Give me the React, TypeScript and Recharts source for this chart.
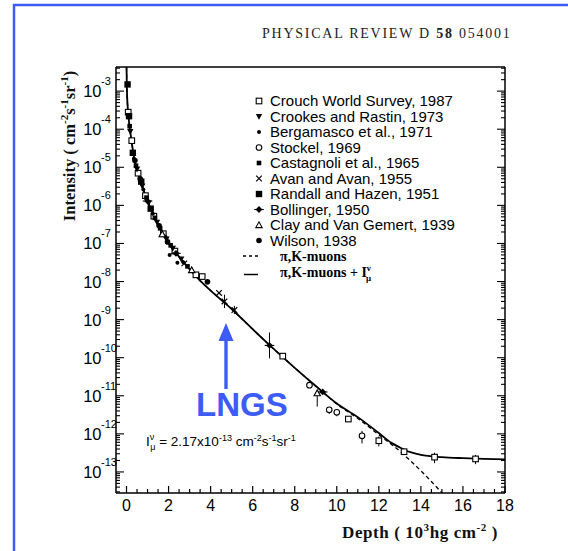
import React from 'react';
import { ComposedChart, Line, Scatter, XAxis, YAxis, ErrorBar } from 'recharts';

const SANS = '"Liberation Sans", Arial, Helvetica, sans-serif';
const SERIF = '"Liberation Serif", "Times New Roman", Times, serif';
const BLUE = '#3d5cf6';

// depth in 10^3 hg cm^-2, intensity in cm^-2 s^-1 sr^-1
const totalDepth = [0, 0.02, 0.1, 0.2, 0.4, 0.6, 0.86, 1.2, 1.5, 2, 2.5, 3, 3.5, 4, 5, 6, 7, 8, 9, 10, 11, 12, 12.6, 13, 13.5, 14, 15, 16, 17, 18];
const totalFlux = [4.3e-3, 1e-3, 2e-4, 7e-5, 1.4e-5, 5.6e-6, 2.1e-6, 7e-7, 3.2e-7, 1.05e-7, 4.5e-8, 2.1e-8, 1.05e-8, 5.8e-9, 1.9e-9, 5.6e-10, 1.7e-10, 5.4e-11, 1.8e-11, 6.3e-12, 2.75e-12, 1.05e-12, 5.8e-13, 4.4e-13, 3.3e-13, 2.8e-13, 2.45e-13, 2.3e-13, 2.2e-13, 2.15e-13];

const pikDepth = [0, 0.02, 0.1, 0.2, 0.4, 0.6, 0.86, 1.2, 1.5, 2, 2.5, 3, 3.5, 4, 5, 6, 7, 8, 9, 10, 11, 12, 13, 14, 15, 15.3];
const pikFlux = [4.3e-3, 1e-3, 2e-4, 7e-5, 1.4e-5, 5.6e-6, 2.1e-6, 7e-7, 3.2e-7, 1.05e-7, 4.5e-8, 2.1e-8, 1.05e-8, 5.8e-9, 1.9e-9, 5.6e-10, 1.7e-10, 5.4e-11, 1.8e-11, 6.1e-12, 2.55e-12, 9.5e-13, 3.5e-13, 1.07e-13, 2.8e-14, 1.8e-14];

// measurements
const crouchDepth = [0.08, 0.25, 0.55, 0.9, 1.3, 1.75, 2.3, 3.3, 3.6, 7.43, 10.55, 12.0, 13.2, 14.65, 16.6];
const crouchFlux = [2.8e-4, 5e-5, 7e-6, 1.8e-6, 5.2e-7, 1.8e-7, 6.3e-8, 1.5e-8, 1.35e-8, 1.1e-10, 2.45e-12, 6.6e-13, 3.4e-13, 2.45e-13, 2.2e-13];
const crouchLow = [null, null, null, null, null, null, null, null, null, null, 2.1e-12, 4.7e-13, 2.9e-13, 1.7e-13, 1.6e-13];
const crouchHigh = [null, null, null, null, null, null, null, null, null, null, 2.8e-12, 8.5e-13, null, 3.2e-13, 2.8e-13];

const crookesDepth = [0.18, 0.5, 0.75, 1.05, 1.45, 1.9, 2.2, 2.6];
const crookesFlux = [8.7e-5, 8.9e-6, 3.2e-6, 1.15e-6, 3.6e-7, 1.3e-7, 7.4e-8, 3.9e-8];

const bergamascoDepth = [0.35, 0.8, 1.25, 1.85, 2.05, 2.42, 2.7];
const bergamascoFlux = [1.7e-5, 2.6e-6, 6e-7, 1.5e-7, 5e-8, 3.1e-8, 3.2e-8];

const stockelDepth = [8.7, 9.64, 10.0, 11.2];
const stockelFlux = [1.9e-11, 4.3e-12, 3.7e-12, 8.9e-13];
const stockelLow = [null, 3.3e-12, 2.9e-12, 5.6e-13];
const stockelHigh = [null, 5e-12, 4.4e-12, 1.2e-12];

const castagnoliDepth = [0.15, 0.45, 0.65, 0.95, 1.35, 1.6, 2.1, 2.9];
const castagnoliFlux = [1.2e-4, 1.1e-5, 4.7e-6, 1.6e-6, 4.7e-7, 2.5e-7, 8.9e-8, 2.5e-8];

const avanDepth = [2.75, 4.4, 4.66, 5.13];
const avanFlux = [3e-8, 5e-9, 3e-9, 1.78e-9];
const avanLow = [null, null, 2e-9, 1.4e-9];
const avanHigh = [null, null, 4.5e-9, 2.3e-9];

const randallDepth = [0.05, 0.12, 0.3, 0.7, 1.15];
const randallFlux = [1.5e-3, 2.2e-4, 2.4e-5, 4.2e-6, 8.2e-7];

const bollingerDepth = [1.0, 2.35, 6.8, 9.33];
const bollingerFlux = [1.3e-6, 5.5e-8, 2.1e-10, 1.26e-11];
const bollingerLow = [null, null, 9.6e-11, null];
const bollingerHigh = [null, null, 4.6e-10, null];

const clayDepth = [1.7, 3.1, 9.07];
const clayFlux = [1.75e-7, 2e-8, 1.17e-11];
const clayLow = [null, null, 5.2e-12];
const clayHigh = [null, null, 1.4e-11];

const wilsonDepth = [0.4, 0.65, 1.55, 1.95, 3.85];
const wilsonFlux = [1.5e-5, 5e-6, 2.9e-7, 1.1e-7, 9.8e-9];

const yExponents = [-3, -4, -5, -6, -7, -8, -9, -10, -11, -12, -13];
const xLabels = [0, 2, 4, 6, 8, 10, 12, 14, 16, 18];

const Y_MIN = 2.8e-14;
const Y_MAX = 4.3e-3;

type Row = { depth: number; intensity: number; err: number[] };

const rows = (d: number[], v: number[], lo?: (number | null)[], hi?: (number | null)[]): Row[] =>
  d.map((depth, i) => ({
    depth,
    intensity: v[i],
    err: [lo && lo[i] != null ? v[i] - (lo[i] as number) : 0, hi && hi[i] != null ? (hi[i] as number) - v[i] : 0],
  }));

const totalData = rows(totalDepth, totalFlux);
const pikData = rows(pikDepth, pikFlux);

const series = [
  { name: 'Crouch World Survey, 1987', kind: 'openSquare', data: rows(crouchDepth, crouchFlux, crouchLow, crouchHigh) },
  { name: 'Crookes and Rastin, 1973', kind: 'triDown', data: rows(crookesDepth, crookesFlux) },
  { name: 'Bergamasco et al., 1971', kind: 'dot', data: rows(bergamascoDepth, bergamascoFlux) },
  { name: 'Stockel, 1969', kind: 'openCircle', data: rows(stockelDepth, stockelFlux, stockelLow, stockelHigh) },
  { name: 'Castagnoli et al., 1965', kind: 'smallSquare', data: rows(castagnoliDepth, castagnoliFlux) },
  { name: 'Avan and Avan, 1955', kind: 'cross', data: rows(avanDepth, avanFlux, avanLow, avanHigh) },
  { name: 'Randall and Hazen, 1951', kind: 'bigSquare', data: rows(randallDepth, randallFlux) },
  { name: 'Bollinger, 1950', kind: 'diamond', data: rows(bollingerDepth, bollingerFlux, bollingerLow, bollingerHigh) },
  { name: 'Clay and Van Gemert, 1939', kind: 'openTri', data: rows(clayDepth, clayFlux, clayLow, clayHigh) },
  { name: 'Wilson, 1938', kind: 'bigDot', data: rows(wilsonDepth, wilsonFlux) },
];

const xTicks: number[] = [];
for (let i = 0; i <= 36; i++) xTicks.push(i / 2);

const yTicks: number[] = [];
for (let e = -14; e <= -3; e++) {
  for (let m = 1; m <= 9; m++) {
    const v = m * Math.pow(10, e);
    if (v >= Y_MIN && v <= Y_MAX) yTicks.push(v);
  }
}

const isDecade = (v: number) => Math.abs(Math.log10(v) - Math.round(Math.log10(v))) < 1e-6;

function marker(kind: string, cx: number, cy: number) {
  const k = '#000';
  switch (kind) {
    case 'openSquare':
      return <rect x={cx - 2.8} y={cy - 2.8} width={5.6} height={5.6} fill="#fff" stroke={k} strokeWidth={1.1} />;
    case 'triDown':
      return <polygon points={`${cx - 3.2},${cy - 2.6} ${cx + 3.2},${cy - 2.6} ${cx},${cy + 3.2}`} fill={k} />;
    case 'dot':
      return <circle cx={cx} cy={cy} r={2} fill={k} />;
    case 'openCircle':
      return <circle cx={cx} cy={cy} r={2.8} fill="#fff" stroke={k} strokeWidth={1.1} />;
    case 'smallSquare':
      return <rect x={cx - 2.3} y={cy - 2.3} width={4.6} height={4.6} fill={k} />;
    case 'cross':
      return (
        <g stroke={k} strokeWidth={1.2}>
          <line x1={cx - 2.8} y1={cy - 2.8} x2={cx + 2.8} y2={cy + 2.8} />
          <line x1={cx - 2.8} y1={cy + 2.8} x2={cx + 2.8} y2={cy - 2.8} />
        </g>
      );
    case 'bigSquare':
      return <rect x={cx - 3.2} y={cy - 3.2} width={6.4} height={6.4} fill={k} />;
    case 'diamond':
      return (
        <g>
          <polygon points={`${cx},${cy - 3.4} ${cx + 3.4},${cy} ${cx},${cy + 3.4} ${cx - 3.4},${cy}`} fill={k} />
          <line x1={cx - 4.8} y1={cy} x2={cx + 4.8} y2={cy} stroke={k} strokeWidth={1.1} />
        </g>
      );
    case 'openTri':
      return <polygon points={`${cx - 3.2},${cy + 2.6} ${cx + 3.2},${cy + 2.6} ${cx},${cy - 3.2}`} fill="#fff" stroke={k} strokeWidth={1.1} />;
    default:
      return <circle cx={cx} cy={cy} r={2.8} fill={k} />;
  }
}

function BottomTick({ x, y, payload }: any) {
  const v = payload.value;
  const labelled = xLabels.includes(v);
  return (
    <g>
      <line x1={x} x2={x} y1={y} y2={y - (labelled ? 7 : 4)} stroke="#000" strokeWidth={1.2} />
      {labelled && (
        <text x={x} y={y + 18} textAnchor="middle" fontSize={16} fontFamily={SANS} fill="#000">
          {v}
        </text>
      )}
    </g>
  );
}

function TopTick({ x, y, payload }: any) {
  const major = xLabels.includes(payload.value);
  return <line x1={x} x2={x} y1={y} y2={y + (major ? 7 : 4)} stroke="#000" strokeWidth={1.2} />;
}

function LeftTick({ x, y, payload }: any) {
  const v = payload.value;
  const major = isDecade(v);
  const exp = Math.round(Math.log10(v));
  return (
    <g>
      <line x1={x} x2={x + (major ? 8 : 4)} y1={y} y2={y} stroke="#000" strokeWidth={1.1} />
      {major && yExponents.includes(exp) && (
        <g fontFamily={SANS} fill="#000">
          <text x={x - 14.5} y={y + 6} textAnchor="end" fontSize={16.5}>
            10
          </text>
          <text x={x - 15} y={y - 6} fontSize={11}>
            {exp}
          </text>
        </g>
      )}
    </g>
  );
}

function RightTick({ x, y, payload }: any) {
  const major = isDecade(payload.value);
  return <line x1={x} x2={x - (major ? 8 : 4)} y1={y} y2={y} stroke="#000" strokeWidth={1.1} />;
}

function Overlay() {
  const rowY = (i: number) => 101 + i * 15.5;
  return (
    <svg width={568} height={551} style={{ position: 'absolute', left: 0, top: 0, pointerEvents: 'none' }}>
      <rect x={14} y={5} width={600} height={600} fill="none" stroke={BLUE} strokeWidth={2.5} />
      <text x={262} y={38} fontFamily={SERIF} fontSize={14} letterSpacing={1.75} fill="#222">
        PHYSICAL REVIEW D <tspan fontWeight="bold">58</tspan> 054001
      </text>

      {/* legend */}
      {series.map((s, i) => (
        <g key={s.name}>
          {marker(s.kind, 259, rowY(i))}
          <text x={270} y={rowY(i) + 5} fontFamily={SANS} fontSize={15} fill="#000">
            {s.name}
          </text>
        </g>
      ))}
      <line x1={243} x2={259} y1={rowY(10)} y2={rowY(10)} stroke="#000" strokeWidth={1.3} strokeDasharray="3 3" />
      <text x={280} y={rowY(10) + 5} fontFamily={SERIF} fontWeight="bold" fontSize={14} fill="#000">
        π,K-muons
      </text>
      <line x1={244} x2={258} y1={rowY(11) + 3} y2={rowY(11) + 3} stroke="#000" strokeWidth={1.5} />
      <text x={280} y={rowY(11) + 5} fontFamily={SERIF} fontWeight="bold" fontSize={14} fill="#000">
        π,K-muons + I
        <tspan fontSize={9} dy={-6}>ν</tspan>
        <tspan fontSize={9} dx={-5} dy={10}>μ</tspan>
      </text>

      {/* axis titles */}
      <text
        transform="translate(75,146) rotate(-90)"
        textAnchor="middle"
        fontFamily={SERIF}
        fontWeight="bold"
        fontSize={16.5}
        fill="#111"
      >
        Intensity ( cm<tspan fontSize={11} dy={-7}>-2</tspan>
        <tspan dy={7}>s</tspan>
        <tspan fontSize={11} dy={-7}>-1</tspan>
        <tspan dy={7}>sr</tspan>
        <tspan fontSize={11} dy={-7}>-1</tspan>
        <tspan dy={7}>)</tspan>
      </text>
      <text x={342} y={538} fontFamily={SERIF} fontWeight="bold" fontSize={17} letterSpacing={0.6} fill="#111">
        Depth ( 10<tspan fontSize={11} dy={-7}>3</tspan>
        <tspan dy={7}>hg cm</tspan>
        <tspan fontSize={11} dy={-7}>-2</tspan>
        <tspan dy={7}> )</tspan>
      </text>

      {/* annotation */}
      <text x={146} y={446} fontFamily={SANS} fontSize={13.5} fill="#000">
        I<tspan fontSize={9} dy={-6}>ν</tspan>
        <tspan fontSize={9} dx={-4} dy={10}>μ</tspan>
        <tspan dy={-4}> = 2.17x10</tspan>
        <tspan fontSize={9} dy={-5}>-13</tspan>
        <tspan dy={5}> cm</tspan>
        <tspan fontSize={9} dy={-5}>-2</tspan>
        <tspan dy={5}>s</tspan>
        <tspan fontSize={9} dy={-5}>-1</tspan>
        <tspan dy={5}>sr</tspan>
        <tspan fontSize={9} dy={-5}>-1</tspan>
      </text>

      {/* LNGS marker */}
      <line x1={226} x2={226} y1={389} y2={338} stroke={BLUE} strokeWidth={3.4} />
      <polygon points="226,323 233.5,341 218.5,341" fill={BLUE} />
      <text x={196} y={416} fontFamily={SANS} fontWeight="bold" fontSize={33} fill={BLUE}>
        LNGS
      </text>
    </svg>
  );
}

export default function App() {
  return (
    <div style={{ position: 'relative', width: 568, height: 551, background: '#fff', overflow: 'hidden' }}>
      <style>{'body{margin:0}'}</style>
      <ComposedChart width={568} height={551} margin={{ top: 66, right: 62, bottom: 57, left: 115 }}>
        <XAxis
          xAxisId="b"
          type="number"
          dataKey="depth"
          domain={[-0.5, 18]}
          allowDataOverflow
          ticks={xTicks}
          interval={0}
          height={1}
          tickSize={0}
          tickMargin={0}
          tickLine={false}
          axisLine={{ stroke: '#000', strokeWidth: 1.5 }}
          tick={<BottomTick />}
        />
        <XAxis
          xAxisId="t"
          orientation="top"
          type="number"
          domain={[-0.5, 18]}
          allowDataOverflow
          ticks={xTicks}
          interval={0}
          height={1}
          tickSize={0}
          tickMargin={0}
          tickLine={false}
          axisLine={{ stroke: '#000', strokeWidth: 1.5 }}
          tick={<TopTick />}
        />
        <YAxis
          yAxisId="l"
          type="number"
          dataKey="intensity"
          scale="log"
          domain={[Y_MIN, Y_MAX]}
          allowDataOverflow
          ticks={yTicks}
          interval={0}
          width={1}
          tickSize={0}
          tickMargin={0}
          tickLine={false}
          axisLine={{ stroke: '#000', strokeWidth: 1.5 }}
          tick={<LeftTick />}
        />
        <YAxis
          yAxisId="r"
          orientation="right"
          type="number"
          scale="log"
          domain={[Y_MIN, Y_MAX]}
          allowDataOverflow
          ticks={yTicks}
          interval={0}
          width={1}
          tickSize={0}
          tickMargin={0}
          tickLine={false}
          axisLine={{ stroke: '#000', strokeWidth: 1.5 }}
          tick={<RightTick />}
        />
        <Line
          xAxisId="b"
          yAxisId="l"
          data={pikData}
          dataKey="intensity"
          type="monotone"
          stroke="#000"
          strokeWidth={1.3}
          strokeDasharray="4 3"
          dot={false}
          isAnimationActive={false}
        />
        <Line
          xAxisId="b"
          yAxisId="l"
          data={totalData}
          dataKey="intensity"
          type="monotone"
          stroke="#000"
          strokeWidth={1.8}
          dot={false}
          isAnimationActive={false}
        />
        {series.map((s) => (
          <Scatter
            key={s.name}
            xAxisId="b"
            yAxisId="l"
            name={s.name}
            data={s.data}
            dataKey="intensity"
            isAnimationActive={false}
            shape={(p: any) => marker(s.kind, p.cx, p.cy)}
          >
            <ErrorBar dataKey="err" direction="y" width={0} stroke="#000" strokeWidth={1} isAnimationActive={false} />
          </Scatter>
        ))}
      </ComposedChart>
      <Overlay />
    </div>
  );
}
